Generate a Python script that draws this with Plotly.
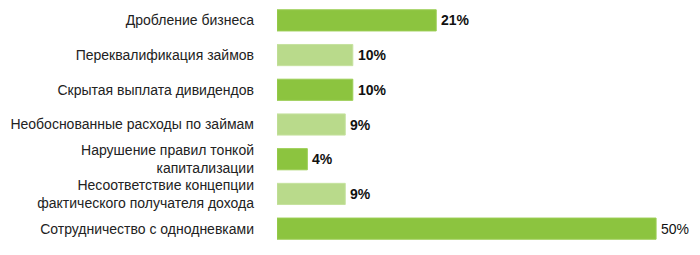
import plotly.graph_objects as go

categories = [
    "Дробление бизнеса",
    "Переквалификация займов",
    "Скрытая выплата дивидендов",
    "Необоснованные расходы по займам",
    "Нарушение правил тонкой<br>капитализации",
    "Несоответствие концепции<br>фактического получателя дохода",
    "Сотрудничество с однодневками",
]
values = [21, 10, 10, 9, 4, 9, 50]
value_labels = ["21%", "10%", "10%", "9%", "4%", "9%", "50%"]
bar_colors = ["#8CC43F", "#B9DA8B", "#8CC43F", "#B9DA8B", "#8CC43F", "#B9DA8B", "#8CC43F"]
line_colors = ["#9CCE55", "#C6E29F", "#9CCE55", "#C6E29F", "#9CCE55", "#C6E29F", "#9CCE55"]
label_bold = [True, True, True, True, True, True, False]

fig = go.Figure()
fig.add_trace(go.Bar(
    y=categories,
    x=values,
    orientation="h",
    marker=dict(color=bar_colors, line=dict(color=line_colors, width=1)),
    hoverinfo="skip",
))

for cat, v, lab, b in zip(categories, values, value_labels, label_bold):
    fig.add_annotation(
        x=v, y=cat, xref="x", yref="y",
        text=f"<b>{lab}</b>" if b else lab,
        showarrow=False, xanchor="left", yanchor="middle",
        xshift=3,
        font=dict(family="Liberation Sans, Arial, sans-serif", size=14, color="#111111"),
    )

fig.update_layout(
    width=700, height=255,
    margin=dict(l=277, r=6, t=3, b=9),
    paper_bgcolor="white", plot_bgcolor="white",
    showlegend=False,
    bargap=0.39,
    font=dict(family="Liberation Sans, Arial, sans-serif", size=14, color="#222222"),
    xaxis=dict(range=[0, 55], visible=False, fixedrange=True),
    yaxis=dict(
        autorange="reversed",
        showgrid=False, zeroline=False, showline=False,
        ticks="", ticklabelstandoff=22,
        tickfont=dict(size=14, color="#222222"),
        fixedrange=True,
    ),
)

fig.write_html("out.html")
